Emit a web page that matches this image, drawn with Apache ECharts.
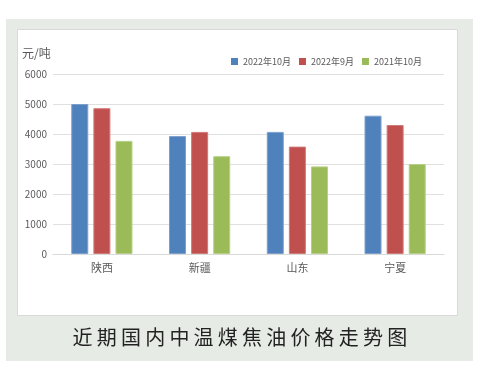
<!DOCTYPE html>
<html>
<head>
<meta charset="utf-8">
<script src="https://cdn.jsdelivr.net/npm/echarts@6/dist/echarts.min.js"></script>
<style>
html,body{margin:0;padding:0;background:#fff;}
#wrap{position:relative;width:480px;height:369px;overflow:hidden;}
#chart{position:absolute;left:0;top:0;width:480px;height:369px;}
#cap{position:absolute;left:0;width:480px;top:324px;text-align:center;font-family:"Noto Sans CJK SC","Noto Sans",sans-serif;font-size:20px;letter-spacing:4.2px;color:#222;line-height:26px;padding-left:2px;}
</style>
</head>
<body>
<div id="wrap">
<div id="chart"></div>
<div id="cap">近期国内中温煤焦油价格走势图</div>
</div>
<script>
var categories = ['陕西', '新疆', '山东', '宁夏'];
var seriesNames = ['2022年10月', '2022年9月', '2021年10月'];
var oct2022 = [5000, 3930, 4070, 4610];
var sep2022 = [4860, 4070, 3580, 4300];
var oct2021 = [3770, 3260, 2920, 3000];
var yTicks = [0, 1000, 2000, 3000, 4000, 5000, 6000];
var unitLabel = '元/吨';

var colors = ['#4F81BD', '#C0504D', '#9BBB59'];
var borders = ['#7d9fcc', '#d07a78', '#b6cf84'];
var font = '"Noto Sans CJK SC","Noto Sans",sans-serif';
var chart = echarts.init(document.getElementById('chart'), null, {renderer: 'canvas'});
var dataSets = [oct2022, sep2022, oct2021];
chart.setOption({
  animation: false,
  backgroundColor: 'transparent',
  graphic: [
    {type: 'rect', z: -10, shape: {x: 6, y: 19, width: 467, height: 342}, style: {fill: '#e6ebe5'}},
    {type: 'rect', z: -9, shape: {x: 17.5, y: 29.5, width: 440, height: 286}, style: {fill: '#ffffff', stroke: '#d9d9d9', lineWidth: 1}},
    {type: 'text', left: 22, top: 47, style: {text: unitLabel, font: '12px ' + font, fill: '#595959'}}
  ],
  legend: {
    left: 226, top: 52,
    itemWidth: 7, itemHeight: 7, itemGap: 8,
    icon: 'rect',
    itemStyle: {borderWidth: 0},
    textStyle: {fontSize: 9, color: '#595959', fontFamily: font},
    data: seriesNames
  },
  grid: {left: 53, right: 36, top: 74, bottom: 115, containLabel: false},
  xAxis: {
    type: 'category', data: categories,
    axisLine: {lineStyle: {color: '#d9d9d9'}},
    axisTick: {show: false},
    axisLabel: {fontSize: 11, color: '#595959', fontFamily: font, margin: 8}
  },
  yAxis: {
    type: 'value', min: yTicks[0], max: yTicks[yTicks.length - 1], interval: 1000,
    axisLine: {show: false}, axisTick: {show: false},
    axisLabel: {fontSize: 10, color: '#595959', fontFamily: font, margin: 6, formatter: function (v) { return String(v); }},
    splitLine: {lineStyle: {color: '#e0e0e0'}}
  },
  series: dataSets.map(function (d, i) {
    return {
      name: seriesNames[i], type: 'bar', data: d,
      barWidth: 17, barGap: '30%',
      itemStyle: {color: colors[i], borderColor: borders[i], borderWidth: 1}
    };
  })
});
</script>
</body>
</html>
